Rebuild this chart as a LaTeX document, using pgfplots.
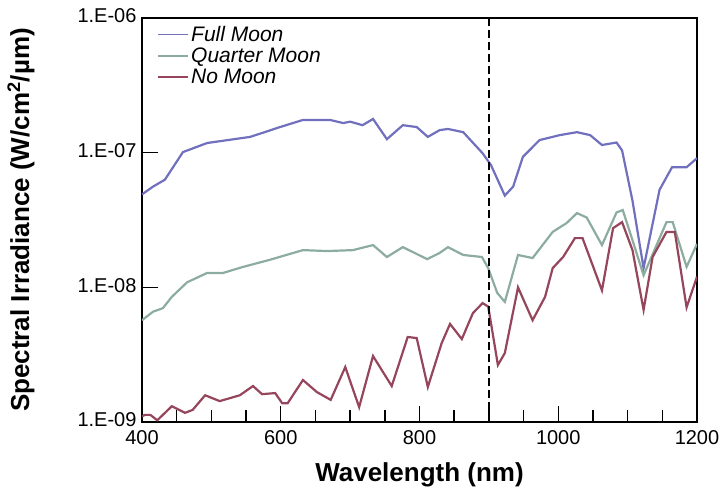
\documentclass[border=0pt]{standalone}
\usepackage{pgfplots}
\pgfplotsset{compat=1.18}
\usepackage{fontspec}
\setmainfont{Liberation Sans}

\definecolor{fullmoon}{RGB}{112,112,190}
\definecolor{quartermoon}{RGB}{140,172,160}
\definecolor{nomoon}{RGB}{150,70,92}

\begin{document}
\begin{tikzpicture}
\useasboundingbox (-142bp,-81bp) rectangle (584bp,422bp);
\begin{axis}[
  at={(0,0)}, anchor=south west,
  scale only axis,
  width=555bp, height=404bp,
  xmin=400, xmax=1200,
  ymode=log, ymin=1e-9, ymax=1e-6,
  xtick={400,600,800,1000,1200},
  minor xtick={450,500,...,1150},
  ytick={1e-9,1e-8,1e-7,1e-6},
  yticklabels={1.E-09,1.E-08,1.E-07,1.E-06},
  yminorticks=false,
  tick align=inside,
  xtick pos=bottom, ytick pos=left,
  major tick length=16bp,
  minor tick length=12bp,
  axis line style={line width=1.8bp},
  every tick/.append style={black, line width=1.5bp},
  tick label style={font=\fontsize{20bp}{22bp}\selectfont},
  /pgf/number format/assume math mode=true,
  /pgf/number format/1000 sep={},
  xticklabel style={yshift=-5bp},
  yticklabel style={xshift=-2bp, yshift=2bp},
  xlabel={\bfseries Wavelength (nm)},
  ylabel={\bfseries Spectral Irradiance (W/cm\textsuperscript{2}/\textmu m)},
  label style={font=\fontsize{26bp}{28bp}\selectfont},
  xlabel style={at={(axis description cs:0.5,-0.13)}, anchor=center},
  ylabel style={at={(axis description cs:-0.218,0.5)}, anchor=center},
  legend style={draw=none, fill=none, at={(0.022,0.99)}, anchor=north west,
    font=\fontsize{21bp}{23bp}\selectfont\itshape, row sep=1bp},
  legend cell align=left,
  legend image code/.code={\draw[#1, line width=1.8bp] (0bp,0bp) -- (30bp,0bp);},
]
\addplot[fullmoon, line width=2.2bp] table {
400 4.9e-8
416 5.6e-8
433 6.3e-8
459 1.01e-7
494 1.18e-7
556 1.31e-7
599 1.55e-7
632 1.75e-7
671 1.75e-7
690 1.66e-7
700 1.70e-7
718 1.60e-7
733 1.78e-7
753 1.26e-7
776 1.60e-7
796 1.55e-7
812 1.31e-7
829 1.47e-7
841 1.50e-7
863 1.42e-7
891 9.9e-8
903 8.1e-8
923 4.8e-8
935 5.6e-8
949 9.3e-8
973 1.24e-7
1002 1.35e-7
1027 1.42e-7
1046 1.35e-7
1063 1.14e-7
1084 1.19e-7
1092 1.04e-7
1107 4.4e-8
1123 1.39e-8
1146 5.3e-8
1164 7.8e-8
1185 7.8e-8
1200 9.1e-8
};
\addlegendentry{Full Moon}
\addplot[quartermoon, line width=2.2bp] table {
400 5.7e-9
416 6.6e-9
430 7.0e-9
443 8.5e-9
465 1.09e-8
494 1.28e-8
517 1.28e-8
546 1.42e-8
584 1.60e-8
613 1.77e-8
632 1.89e-8
667 1.86e-8
704 1.89e-8
733 2.06e-8
753 1.68e-8
776 1.99e-8
811 1.62e-8
829 1.80e-8
841 1.99e-8
863 1.74e-8
890 1.68e-8
899 1.39e-8
912 9.1e-9
923 7.8e-9
942 1.74e-8
963 1.65e-8
992 2.58e-8
1012 3.0e-8
1027 3.56e-8
1041 3.3e-8
1063 2.06e-8
1084 3.6e-8
1093 3.75e-8
1107 2.24e-8
1123 1.23e-8
1156 3.05e-8
1165 3.05e-8
1185 1.42e-8
1200 2.1e-8
};
\addlegendentry{Quarter Moon}
\addplot[nomoon, line width=2.2bp] table {
400 1.10e-9
404 1.13e-9
412 1.13e-9
422 1.03e-9
443 1.31e-9
462 1.17e-9
473 1.23e-9
491 1.58e-9
512 1.43e-9
541 1.58e-9
560 1.85e-9
573 1.61e-9
592 1.64e-9
602 1.38e-9
610 1.38e-9
632 2.05e-9
652 1.67e-9
672 1.46e-9
693 2.56e-9
713 1.29e-9
733 3.09e-9
760 1.85e-9
783 4.28e-9
796 4.2e-9
812 1.82e-9
832 3.86e-9
844 5.35e-9
861 4.13e-9
877 6.44e-9
891 7.64e-9
899 7.2e-9
904 5.07e-9
913 2.65e-9
923 3.25e-9
942 1.0e-8
963 5.7e-9
981 8.5e-9
992 1.39e-8
1007 1.68e-8
1024 2.32e-8
1035 2.32e-8
1063 9.5e-9
1079 2.75e-8
1092 3.05e-8
1107 1.89e-8
1123 6.8e-9
1136 1.68e-8
1156 2.58e-8
1168 2.58e-8
1185 7.1e-9
1200 1.2e-8
};
\addlegendentry{No Moon}
\addplot[black, line width=1.8bp, dash pattern=on 8bp off 4bp, forget plot] coordinates {(900,1e-9) (900,1e-6)};
\end{axis}
\end{tikzpicture}
\end{document}
